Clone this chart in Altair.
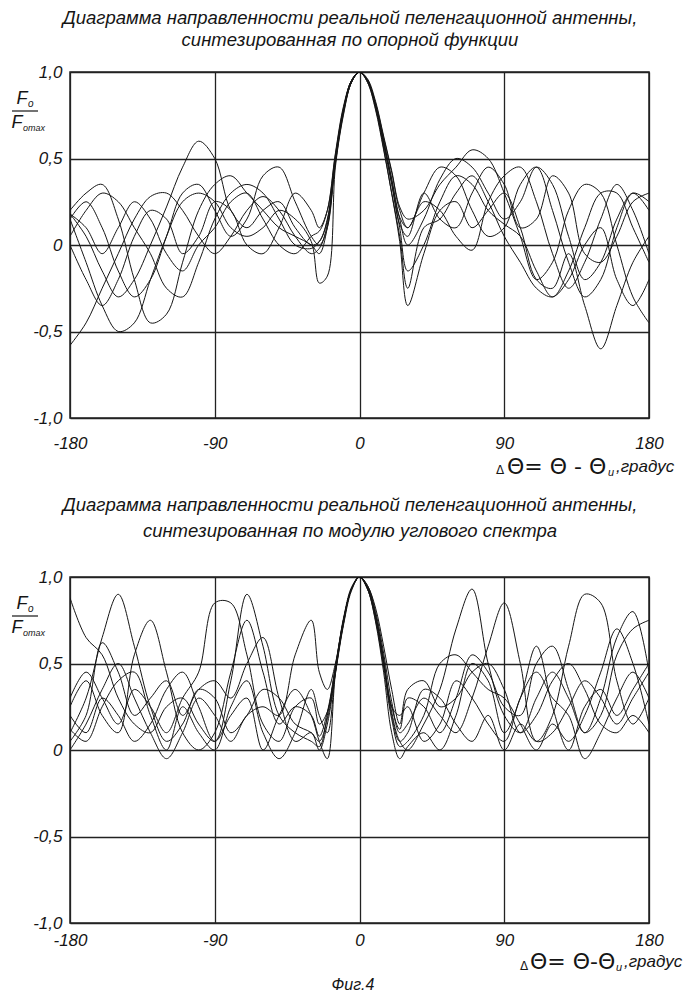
import altair as alt
import pandas as pd

# ---------------- data ----------------
ANGLES = [-180, -170, -160, -150, -140, -130, -120, -110, -100, -90, -80, -70, -60, -50, -40, -30,
          -25, -20, -15, -10, -5, 0, 5, 10, 15, 20, 25,
          30, 40, 50, 60, 70, 80, 90, 100, 110, 120, 130, 140, 150, 160, 170, 180]

# upper panel: pattern synthesized by reference function
A1 = [0.18, 0.05, -0.15, -0.30, -0.20, 0.00, 0.22, 0.45, 0.60, 0.50, 0.20, 0.10, 0.20, 0.25, 0.10, 0.00,
      0.02, 0.15, 0.50, 0.78, 0.95, 1.00, 0.95, 0.80, 0.60, 0.38, 0.15,
      0.00, 0.15, 0.38, 0.50, 0.45, 0.30, 0.15, 0.25, 0.45, 0.35, 0.05, -0.20, -0.10, 0.15, 0.30, 0.20]
A2 = [-0.58, -0.45, -0.25, -0.05, 0.15, 0.28, 0.30, 0.20, 0.05, -0.05, 0.05, 0.20, 0.28, 0.20, 0.05, -0.05,
      -0.02, 0.12, 0.48, 0.77, 0.94, 1.00, 0.95, 0.81, 0.58, 0.35, 0.10,
      -0.15, 0.00, 0.25, 0.40, 0.35, 0.20, 0.12, 0.05, -0.15, -0.30, -0.15, 0.10, 0.30, 0.30, 0.10, -0.10]
A3 = [0.20, 0.30, 0.35, 0.15, -0.20, -0.45, -0.40, -0.10, 0.20, 0.35, 0.40, 0.30, 0.20, 0.10, 0.05, 0.00,
      -0.05, 0.10, 0.47, 0.76, 0.94, 1.00, 0.94, 0.78, 0.55, 0.30, 0.02,
      -0.35, -0.05, 0.20, 0.25, 0.10, 0.20, 0.30, 0.10, -0.20, -0.25, -0.05, -0.35, -0.60, -0.35, -0.10, 0.05]
A4 = [0.15, -0.10, -0.35, -0.50, -0.45, -0.20, 0.05, 0.25, 0.30, 0.25, 0.10, 0.05, 0.10, 0.20, 0.15, 0.02,
      -0.22, -0.18, 0.45, 0.75, 0.94, 1.00, 0.95, 0.82, 0.62, 0.42, 0.20,
      0.10, 0.30, 0.45, 0.40, 0.20, 0.05, 0.10, 0.35, 0.45, 0.20, -0.10, -0.30, -0.20, 0.10, 0.30, 0.25]
A5 = [0.05, 0.20, 0.30, 0.25, 0.10, -0.05, -0.25, -0.30, -0.10, 0.15, 0.30, 0.35, 0.30, 0.15, 0.00, -0.02,
      0.02, 0.14, 0.50, 0.78, 0.95, 1.00, 0.96, 0.83, 0.63, 0.43, 0.22,
      0.15, 0.20, 0.35, 0.45, 0.55, 0.50, 0.30, 0.05, -0.20, -0.10, 0.20, 0.35, 0.30, 0.00, -0.30, -0.45]
A6 = [0.00, -0.20, -0.35, -0.20, 0.05, 0.20, 0.15, -0.05, 0.05, 0.25, 0.20, 0.00, -0.05, 0.10, 0.30, 0.20,
      0.10, 0.20, 0.52, 0.79, 0.95, 1.00, 0.95, 0.80, 0.60, 0.38, 0.16,
      0.10, 0.25, 0.20, 0.05, -0.03, 0.25, 0.40, 0.45, 0.25, -0.05, -0.25, -0.10, 0.15, 0.35, 0.20, -0.05]
A7 = [0.15, 0.25, 0.10, -0.15, -0.30, -0.20, 0.05, 0.30, 0.35, 0.20, 0.05, 0.15, 0.40, 0.45, 0.25, 0.05,
      0.00, 0.10, 0.48, 0.77, 0.94, 1.00, 0.94, 0.79, 0.56, 0.30, 0.05,
      -0.25, 0.10, 0.15, 0.30, 0.40, 0.25, 0.05, -0.10, -0.25, -0.30, -0.20, 0.00, 0.10, -0.20, -0.35, -0.20]
A8 = [0.18, 0.10, -0.05, 0.10, 0.25, 0.15, -0.05, -0.15, 0.00, 0.10, 0.25, 0.30, 0.15, 0.00, -0.05, 0.05,
      0.08, 0.20, 0.53, 0.80, 0.95, 1.00, 0.95, 0.81, 0.59, 0.36, 0.12,
      0.05, 0.30, 0.15, 0.10, 0.30, 0.45, 0.35, 0.10, 0.15, 0.40, 0.30, -0.05, -0.10, 0.05, 0.25, 0.30]

# lower panel: pattern synthesized by modulus of angular spectrum
B1 = [0.88, 0.65, 0.55, 0.30, 0.15, 0.10, 0.25, 0.30, 0.15, 0.05, 0.40, 0.90, 0.60, 0.20, 0.10, 0.05,
      0.02, 0.20, 0.47, 0.75, 0.93, 1.00, 0.94, 0.78, 0.52, 0.22, 0.05,
      0.00, 0.15, 0.35, 0.70, 0.93, 0.50, 0.20, 0.10, 0.30, 0.45, 0.30, 0.10, 0.20, 0.55, 0.70, 0.75]
B2 = [0.10, 0.30, 0.65, 0.90, 0.60, 0.25, 0.05, 0.15, 0.35, 0.30, 0.10, 0.20, 0.35, 0.30, 0.15, 0.10,
      0.05, 0.18, 0.45, 0.73, 0.93, 1.00, 0.95, 0.80, 0.56, 0.28, 0.10,
      0.15, 0.30, 0.20, 0.10, 0.30, 0.60, 0.85, 0.50, 0.05, 0.10, 0.25, 0.40, 0.30, 0.15, 0.30, 0.45]
B3 = [0.25, 0.40, 0.20, 0.10, 0.55, 0.75, 0.45, 0.10, 0.00, 0.10, 0.45, 0.75, 0.45, 0.15, 0.25, 0.20,
      0.08, 0.22, 0.48, 0.75, 0.93, 1.00, 0.93, 0.76, 0.50, 0.25, 0.12,
      0.30, 0.25, 0.10, 0.30, 0.55, 0.45, 0.25, 0.20, 0.50, 0.60, 0.35, 0.10, 0.30, 0.65, 0.80, 0.45]
B4 = [0.05, 0.20, 0.62, 0.45, 0.20, 0.30, 0.40, 0.20, 0.35, 0.40, 0.30, 0.50, 0.65, 0.30, 0.05, 0.10,
      0.00, 0.15, 0.44, 0.72, 0.92, 1.00, 0.93, 0.75, 0.48, 0.18, 0.02,
      0.05, 0.20, 0.50, 0.55, 0.45, 0.35, 0.30, 0.15, 0.00, 0.15, 0.05, 0.20, 0.45, 0.70, 0.50, 0.15]
B5 = [0.30, 0.45, 0.30, 0.15, 0.35, 0.25, 0.10, 0.30, 0.45, 0.85, 0.85, 0.55, 0.15, 0.05, 0.25, 0.30,
      0.15, 0.22, 0.48, 0.75, 0.93, 1.00, 0.95, 0.82, 0.60, 0.35, 0.15,
      0.35, 0.40, 0.25, 0.30, 0.45, 0.50, 0.35, 0.10, 0.20, 0.40, 0.50, 0.35, 0.15, 0.10, 0.20, 0.10]
B6 = [0.00, 0.15, 0.35, 0.50, 0.30, 0.10, -0.05, 0.10, 0.30, 0.20, 0.05, 0.20, 0.25, 0.20, 0.55, 0.75,
      0.45, 0.35, 0.50, 0.76, 0.94, 1.00, 0.94, 0.77, 0.50, 0.20, 0.05,
      0.10, 0.35, 0.30, 0.15, 0.05, 0.20, 0.00, 0.15, 0.05, 0.20, 0.60, 0.90, 0.85, 0.40, 0.15, 0.30]
B7 = [0.12, 0.05, 0.25, 0.40, 0.45, 0.20, 0.00, 0.25, 0.10, 0.00, 0.25, 0.40, 0.10, -0.05, 0.10, 0.35,
      0.20, 0.10, 0.45, 0.74, 0.93, 1.00, 0.93, 0.74, 0.45, 0.10, -0.05,
      0.02, 0.10, 0.00, 0.20, 0.50, 0.40, 0.10, 0.30, 0.60, 0.25, 0.00, 0.25, 0.35, 0.20, 0.35, 0.50]
B8 = [0.20, 0.10, 0.30, 0.20, 0.05, 0.15, 0.35, 0.45, 0.25, 0.05, 0.20, 0.30, 0.00, 0.20, 0.35, 0.20,
      0.05, -0.05, 0.44, 0.73, 0.93, 1.00, 0.94, 0.78, 0.53, 0.25, 0.20,
      0.25, 0.05, 0.15, 0.40, 0.30, 0.15, 0.05, 0.30, 0.45, 0.30, 0.20, -0.05, 0.10, 0.30, 0.45, 0.30]

TOP_CURVES = [A1, A2, A3, A4, A5, A6, A7, A8]
BOTTOM_CURVES = [B1, B2, B3, B4, B5, B6, B7, B8]

X_TICKS = [-180, -90, 0, 90, 180]
X_LABELS = ["-180", "-90", "0", "90", "180"]
Y_TICKS = [-1.0, -0.5, 0.0, 0.5, 1.0]
Y_LABELS = ["-1,0", "-0,5", "0", "0,5", "1,0"]

TITLE_TOP = ["Диаграмма направленности реальной пеленгационной антенны,",
             "синтезированная по опорной функции"]
TITLE_BOTTOM = ["Диаграмма направленности реальной пеленгационной антенны,",
                "синтезированная по модулю углового спектра"]
FIG_LABEL = "Фиг.4"

W, H = 579, 346
FONT = "Liberation Sans"
INK = "#151515"


def label_expr(ticks, labels):
    expr = "''"
    for t, l in reversed(list(zip(ticks, labels))):
        expr = f"datum.value == {t} ? '{l}' : ({expr})"
    return expr


def long_df(curves):
    rows = []
    for i, c in enumerate(curves):
        for a, v in zip(ANGLES, c):
            rows.append({"angle": a, "value": v, "curve": f"c{i+1}"})
    return pd.DataFrame(rows)


def txt(s, x, y, size, align="left", style="italic", font=FONT, baseline="middle"):
    return alt.Chart(pd.DataFrame({"t": [s]})).mark_text(
        align=align, baseline=baseline, fontSize=size, fontStyle=style, font=font,
        color=INK).encode(x=alt.value(x), y=alt.value(y), text="t:N")


def panel(curves, title, title_y, xlab_pad, axis_parts):
    df = long_df(curves)
    lines = alt.Chart(df).mark_line(
        color=INK, strokeWidth=1.0, interpolate="catmull-rom", clip=True
    ).encode(
        x=alt.X("angle:Q", scale=alt.Scale(domain=[-180, 180], nice=False, zero=False),
                axis=alt.Axis(values=X_TICKS, labelExpr=label_expr(X_TICKS, X_LABELS),
                              title=None, grid=True, gridColor="#222", gridWidth=1.3,
                              ticks=False, domain=False, labelFont=FONT, labelFontSize=17,
                              labelFontStyle="italic", labelColor=INK, labelPadding=xlab_pad,
                              labelOverlap=False, labelFlush=False)),
        y=alt.Y("value:Q", scale=alt.Scale(domain=[-1, 1], nice=False, zero=False),
                axis=alt.Axis(values=Y_TICKS, labelExpr=label_expr(Y_TICKS, Y_LABELS),
                              title=None, grid=True, gridColor="#222", gridWidth=1.3,
                              ticks=False, domain=False, labelFont=FONT, labelFontSize=17,
                              labelFontStyle="italic", labelColor=INK, labelPadding=8,
                              labelOverlap=False, labelFlush=False)),
        detail="curve:N",
    )
    layers = [lines]
    # panel title
    layers.append(txt(title[0], 280, title_y[0], 18.5, align="center"))
    layers.append(txt(title[1], 280, title_y[1], 18.5, align="center"))
    # y axis label as fraction F_o / F_omax
    layers.append(txt("F", -48, 27, 18, align="center"))
    layers.append(txt("o", -42, 32, 10))
    layers.append(alt.Chart(pd.DataFrame({"k": [0]})).mark_rule(color=INK, strokeWidth=1.2).encode(
        x=alt.value(-58), x2=alt.value(-32), y=alt.value(39)))
    layers.append(txt("F", -53, 51, 18, align="center"))
    layers.append(txt("omax", -47, 56, 9))
    # x axis title
    for p in axis_parts:
        layers.append(txt(*p))
    return alt.layer(*layers).properties(width=W, height=H)


top = panel(TOP_CURVES, TITLE_TOP, (-54, -32), 17, [
    ("Δ", 430, 398, 12, "center", "normal", "DejaVu Sans"),
    ("Θ= Θ - Θ", 437, 395, 22, "left", "normal", "DejaVu Sans"),
    ("и", 538, 401, 11),
    (",градус", 546, 395, 17),
])
bottom = panel(BOTTOM_CURVES, TITLE_BOTTOM, (-72, -46), 9, [
    ("Δ", 454, 389, 12, "center", "normal", "DejaVu Sans"),
    ("Θ= Θ-Θ", 460, 385, 22, "left", "normal", "DejaVu Sans"),
    ("и", 546, 391, 11),
    (",градус", 554, 385, 17),
])
bottom = alt.layer(bottom, txt(FIG_LABEL, 283, 408, 16, align="center"))

chart = alt.vconcat(top, bottom, spacing=159, bounds="flush").properties(
    padding={"left": 2, "top": 0, "right": 0, "bottom": 0},
    background="white",
).configure_view(stroke="#222", strokeWidth=1.5)

chart.save("out.html", embed_options={"renderer": "svg", "actions": False})
